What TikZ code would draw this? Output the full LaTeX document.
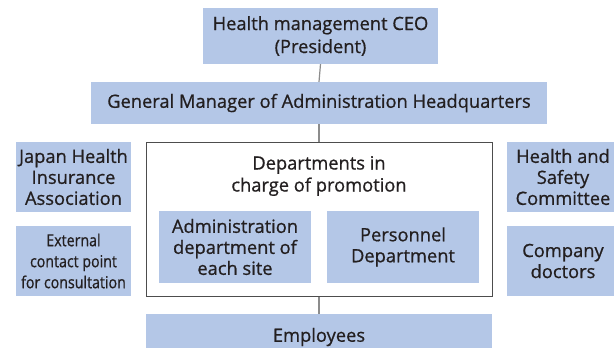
\documentclass[tikz,border=0pt]{standalone}
\usepackage{fontspec}
\setmainfont{Open Sans}[FakeBold=0.8]
\newfontfamily\condfont[FakeStretch=0.86,FakeBold=0.8]{Open Sans}
\definecolor{boxblue}{HTML}{B4C7E7}
\definecolor{txt}{HTML}{231F20}
\definecolor{linegray}{HTML}{8C8C8C}
\definecolor{framegray}{HTML}{4D4D4D}
\begin{document}
\begin{tikzpicture}[x=1pt,y=-1pt,
  bluebox/.style={fill=boxblue, draw=none, align=center, text=txt, inner sep=0pt,
    font=\fontsize{18.3}{21}\selectfont},
  conn/.style={draw=linegray, line width=1.2pt}]
\clip (0,0) rectangle (614,348);
\fill[white] (0,0) rectangle (614,348);
\node[bluebox, minimum width=235pt, minimum height=56pt, font=\fontsize{18.3}{23}\selectfont] (ceo) at (320.5,36) {Health management CEO\\(President)};
\node[bluebox, minimum width=456pt, minimum height=42pt] (gm) at (319,103) {General Manager of Administration Headquarters};
\node[draw=framegray, line width=1pt, fill=white, minimum width=346pt, minimum height=154pt, inner sep=0pt] (big) at (319,219) {};
\node[align=center, text=txt, font=\fontsize{18.3}{22}\selectfont] (deptlabel) at (319,176) {Departments in\\charge of promotion};
\node[bluebox, minimum width=152pt, minimum height=72pt] (admin) at (235,247) {Administration\\department of\\each site};
\node[bluebox, minimum width=152pt, minimum height=72pt] (pers) at (403,247) {Personnel\\Department};
\node[bluebox, minimum width=115pt, minimum height=70pt] (jhia) at (73.5,177) {Japan Health\\Insurance\\Association};
\node[bluebox, minimum width=115pt, minimum height=70pt, font=\condfont\fontsize{16.5}{21}\selectfont] (ext) at (73.5,261) {External\\contact point\\for consultation};
\node[bluebox, minimum width=112pt, minimum height=70pt] (hsc) at (563,177) {Health and\\Safety\\Committee};
\node[bluebox, minimum width=112pt, minimum height=70pt] (doc) at (563,261) {Company\\doctors};
\node[bluebox, minimum width=346pt, minimum height=46pt] (emp) at (319,337) {Employees};
\draw[conn] (ceo.south) -- (gm.north);
\draw[conn] (gm.south) -- (big.north);
\draw[conn] (big.south) -- (emp.north);
\end{tikzpicture}
\end{document}
